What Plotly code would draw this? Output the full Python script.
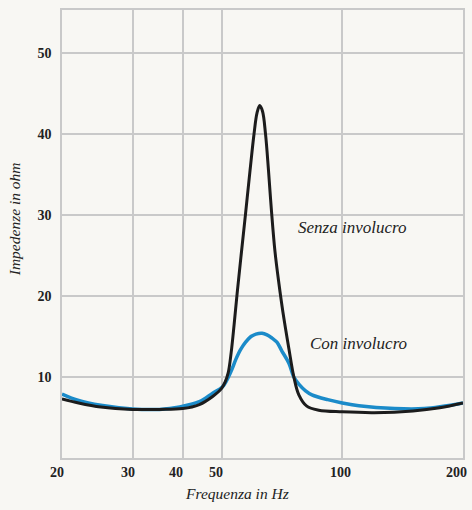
import math
import plotly.graph_objects as go

# ---- Data ----
freq_senza = [20, 22, 25, 30, 35, 40, 44, 47.5, 50, 51.05, 51.93, 52.83, 53.74, 54.67, 55.93, 57.39, 58.88, 60.24, 61.29, 62.24,
              63.25, 64.35, 65.46, 66.59, 67.94, 69.51, 71.12, 73.6, 75.73, 77.92, 81.56, 87.35, 100, 120, 150, 175, 200]
z_senza = [7.3, 6.8, 6.3, 6.0, 6.0, 6.1, 6.6, 7.6, 8.6, 9.4, 10.5, 13.0, 16.5, 20.3, 25.0, 30.2, 35.5, 40.0, 42.6, 43.5,
           42.8, 40.0, 35.5, 30.5, 25.5, 21.5, 18.0, 13.5, 10.0, 7.8, 6.4, 5.9, 5.7, 5.6, 5.8, 6.2, 6.8]

freq_con = [20, 22, 25, 30, 35, 39.3, 44, 47.5, 50.3, 52.8, 54.3, 55.8, 57.4, 59.2, 60.9, 63.1, 64.9, 66.8, 68.7, 70.7,
            73.6, 75.7, 78, 81, 84, 92, 100, 110, 135, 160, 200]
z_con = [7.9, 7.1, 6.5, 6.05, 6.0, 6.3, 6.95, 8.0, 8.8, 10.7, 12.2, 13.4, 14.3, 15.0, 15.3, 15.4, 15.2, 14.8, 14.3, 13.2,
         11.7, 10.0, 9.1, 8.3, 7.8, 7.2, 6.8, 6.45, 6.1, 6.1, 6.8]

x_ticks = [20, 30, 40, 50, 100, 200]
x_ticktext = ["20", "30", "40", "50", "100", "200"]
y_ticks = [10, 20, 30, 40, 50]
y_ticktext = ["10", "20", "30", "40", "50"]

label_senza = "Senza involucro"
label_con = "Con involucro"
x_title = "Frequenza in Hz"
y_title = "Impedenze in ohm"

# ---- Styling ----
serif = "Liberation Serif"
grid = "#c9c9c9"
bg = "#f8f7f3"
ink = "#222222"
W, H = 472, 510
ML, MR, MT, MB = 62, 7, 10, 52
pw, ph = W - ML - MR, H - MT - MB

def paper(x, y):
    return (x - ML) / pw, (H - MB - y) / ph

fig = go.Figure()
fig.add_trace(go.Scatter(x=freq_con, y=z_con, mode="lines",
                         line=dict(color="#1b8bc9", width=3.5, shape="spline", smoothing=1.0),
                         showlegend=False, hoverinfo="skip"))
fig.add_trace(go.Scatter(x=freq_senza, y=z_senza, mode="lines",
                         line=dict(color="#1c1c1c", width=3, shape="spline", smoothing=1.0),
                         showlegend=False, hoverinfo="skip"))

anns = []
for text, (x, y) in [(label_senza, (353, 227)), (label_con, (360, 343))]:
    ax, ay = paper(x, y)
    anns.append(dict(text=text, x=ax, y=ay, xref="paper", yref="paper", showarrow=False,
                     xanchor="center", yanchor="middle",
                     font=dict(family=serif, size=17, color=ink, style="italic")))
x_label_shift = [-5, -5, -7, -6, -2, -7]
_, ty = paper(0, 472)
for v, t, s in zip(x_ticks, x_ticktext, x_label_shift):
    anns.append(dict(text=t, x=math.log10(v), y=ty, xref="x", yref="paper", showarrow=False,
                     xanchor="center", yanchor="middle", xshift=s,
                     font=dict(family=serif, size=14, color=ink, weight="bold")))
ax, ay = paper(238, 493)
anns.append(dict(text=x_title, x=ax, y=ay, xref="paper", yref="paper", showarrow=False,
                 xanchor="center", yanchor="middle",
                 font=dict(family=serif, size=15.5, color=ink, style="italic")))
ax, ay = paper(15, 219)
anns.append(dict(text=y_title, x=ax, y=ay, xref="paper", yref="paper", showarrow=False,
                 xanchor="center", yanchor="middle", textangle=-90,
                 font=dict(family=serif, size=15.5, color=ink, style="italic")))

fig.update_layout(
    width=W, height=H,
    margin=dict(l=ML, r=MR, t=MT, b=MB),
    paper_bgcolor=bg, plot_bgcolor=bg,
    xaxis=dict(type="log", range=[math.log10(20), math.log10(200)], tickvals=x_ticks, showticklabels=False,
               showgrid=True, gridcolor=grid, gridwidth=1.5, showline=True, linecolor=grid, linewidth=1.5,
               mirror=True, zeroline=False, ticks=""),
    yaxis=dict(range=[0, 55.3], tickvals=y_ticks, ticktext=y_ticktext,
               showgrid=True, gridcolor=grid, gridwidth=1.5, showline=True, linecolor=grid, linewidth=1.5,
               mirror=True, zeroline=False, ticks="", ticklabelstandoff=6,
               tickfont=dict(family=serif, size=14, color=ink, weight="bold")),
    annotations=anns,
)

fig.write_html("out.html", config={"displayModeBar": False},
               post_script="document.body.style.margin='0';document.body.style.background='%s';" % bg)
